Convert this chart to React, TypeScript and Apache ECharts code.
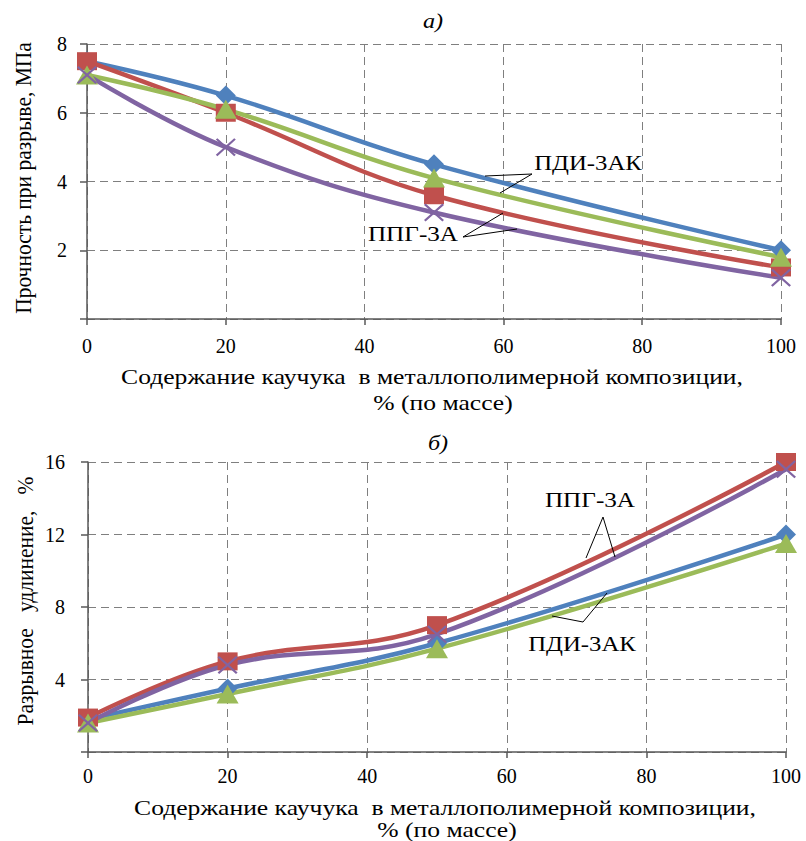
import React, { useEffect, useRef } from "react";
import * as echarts from "echarts";

const xValues = [0, 20, 50, 100];

// a) tensile strength, MPa
const strengthPDI1 = [7.5, 6.5, 4.5, 2.0];
const strengthPPG1 = [7.5, 6.0, 3.6, 1.5];
const strengthPDI2 = [7.1, 6.1, 4.1, 1.8];
const strengthPPG2 = [7.1, 5.0, 3.1, 1.2];

// b) elongation at break, %
const elongPDI1 = [1.8, 3.5, 6.0, 12.0];
const elongPPG1 = [1.9, 5.0, 7.0, 16.0];
const elongPDI2 = [1.6, 3.2, 5.7, 11.5];
const elongPPG2 = [1.6, 4.8, 6.5, 15.6];

const labelA = "а)";
const labelB = "б)";
const yTitleA = "Прочность при разрыве, МПа";
const yTitleB = "Разрывное   удлинение,   %";
const xTitle1 = "Содержание каучука  в металлополимерной композиции,";
const xTitle2 = "% (по массе)";
const nameПДИ = "ПДИ-3АК";
const nameППГ = "ППГ-3А";

const FONT = '"Liberation Serif", "DejaVu Serif", serif';
const BLUE = "#4F81BD";
const RED = "#C0504D";
const GREEN = "#9BBB59";
const PURPLE = "#8064A2";
const XSYM =
  "path://M0,0.8 L0.8,0 L5,4.2 L9.2,0 L10,0.8 L5.8,5 L10,9.2 L9.2,10 L5,5.8 L0.8,10 L0,9.2 L4.2,5 Z";

const pairs = (ys: number[]) => xValues.map((x, i) => [x, ys[i]]);

function mkSeries(name: string, ys: number[], color: string, symbol: string, size: number[], idx: number) {
  return {
    name,
    type: "line",
    xAxisIndex: idx,
    yAxisIndex: idx,
    data: pairs(ys),
    smooth: 0.4,
    symbol,
    symbolSize: size,
    showSymbol: true,
    lineStyle: { color, width: 4.5 },
    itemStyle: { color, borderWidth: 0 },
    z: 3,
  };
}

function xAxisCfg(idx: number, margin: number) {
  return {
    type: "value",
    gridIndex: idx,
    min: 0,
    max: 100,
    interval: 20,
    axisLine: { show: true, lineStyle: { color: "#595959", width: 1.5 } },
    axisTick: { show: true, length: 6, lineStyle: { color: "#595959", width: 1.5 } },
    axisLabel: { color: "#000", fontFamily: FONT, fontSize: 20, margin },
    splitLine: { show: true, lineStyle: { color: "#7f7f7f", type: [8, 5], width: 1 } },
  };
}

function yAxisCfg(idx: number, max: number, interval: number, margin: number) {
  return {
    type: "value",
    gridIndex: idx,
    min: 0,
    max,
    interval,
    axisLine: { show: true, lineStyle: { color: "#595959", width: 1.5 } },
    axisTick: { show: true, length: 7, lineStyle: { color: "#595959", width: 1.5 } },
    axisLabel: {
      color: "#000",
      fontFamily: FONT,
      fontSize: 20,
      margin,
      formatter: (v: number) => (v === 0 ? "" : String(v)),
    },
    splitLine: { show: true, lineStyle: { color: "#7f7f7f", type: [8, 5], width: 1 } },
  };
}

const txt = (text: string, x: number, y: number, extra: any = {}) => ({
  type: "text",
  x,
  y,
  rotation: extra.rotation || 0,
  scaleX: extra.sx || 1,
  scaleY: extra.sy || 1,
  style: {
    text,
    fill: "#000",
    fontFamily: FONT,
    fontSize: extra.size || 21,
    fontStyle: extra.italic ? "italic" : "normal",
    textAlign: "center",
    textVerticalAlign: "middle",
  },
  z: 10,
});

const seg = (x1: number, y1: number, x2: number, y2: number) => ({
  type: "line",
  shape: { x1, y1, x2, y2 },
  style: { stroke: "#000", lineWidth: 1 },
  z: 10,
});

export default function App() {
  const ref = useRef<HTMLDivElement>(null);
  useEffect(() => {
    if (!ref.current) return;
    const chart = echarts.init(ref.current, undefined, { renderer: "svg" });
    chart.setOption({
      animation: false,
      backgroundColor: "#fff",
      textStyle: { fontFamily: FONT },
      grid: [
        { left: 87, right: 25, top: 44, height: 275 },
        { left: 88, right: 20, top: 462, height: 290 },
      ],
      xAxis: [xAxisCfg(0, 17), xAxisCfg(1, 14)],
      yAxis: [yAxisCfg(0, 8, 2, 20), yAxisCfg(1, 16, 4, 23)],
      series: [
        mkSeries(nameПДИ + " 1", strengthPDI1, BLUE, "diamond", [20, 20], 0),
        mkSeries(nameППГ + " 1", strengthPPG1, RED, "rect", [20, 18], 0),
        mkSeries(nameПДИ + " 2", strengthPDI2, GREEN, "triangle", [22, 19], 0),
        mkSeries(nameППГ + " 2", strengthPPG2, PURPLE, XSYM, [20, 18], 0),
        mkSeries(nameПДИ + " 1", elongPDI1, BLUE, "diamond", [20, 20], 1),
        mkSeries(nameППГ + " 1", elongPPG1, RED, "rect", [20, 18], 1),
        mkSeries(nameПДИ + " 2", elongPDI2, GREEN, "triangle", [22, 19], 1),
        mkSeries(nameППГ + " 2", elongPPG2, PURPLE, XSYM, [20, 18], 1),
      ],
      graphic: [
        txt(labelA, 433, 21, { italic: true, sx: 1.15 }),
        txt(labelB, 438, 443, { italic: true, sx: 1.15 }),
        txt(yTitleA, 23, 178, { rotation: Math.PI / 2, size: 21.5, sy: 1.12 }),
        txt(yTitleB, 25, 601, { rotation: Math.PI / 2, size: 21.5, sy: 1.12 }),
        txt(xTitle1, 432, 377, { sx: 1.22 }),
        txt(xTitle2, 443, 403, { sx: 1.22 }),
        txt(xTitle1, 445, 808, { sx: 1.22 }),
        txt(xTitle2, 447, 830, { sx: 1.22 }),
        txt(nameПДИ, 588, 163, { sx: 1.18 }),
        seg(532, 174, 485, 176),
        seg(532, 174, 500, 193),
        txt(nameППГ, 413, 234, { sx: 1.2 }),
        seg(463, 237, 503, 213),
        seg(463, 237, 517, 229),
        txt(nameППГ, 590, 500, { sx: 1.2 }),
        seg(603, 517, 586, 558),
        seg(603, 517, 615, 557),
        txt(nameПДИ, 582, 644, { sx: 1.18 }),
        seg(583, 622, 552, 616),
        seg(583, 622, 607, 593),
      ],
    });
    return () => chart.dispose();
  }, []);
  return (
    <div
      ref={ref}
      style={{ position: "absolute", left: 0, top: 0, width: 806, height: 841 }}
    />
  );
}
